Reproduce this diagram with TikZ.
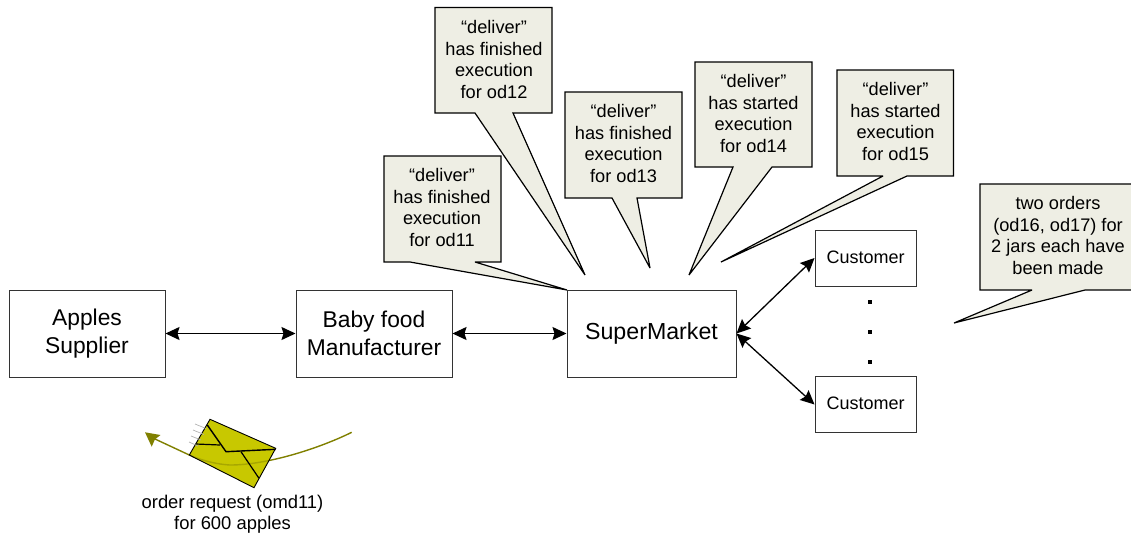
\documentclass[tikz,border=0pt]{standalone}
\usepackage{fontspec}
\setmainfont{Liberation Sans}
\usetikzlibrary{arrows.meta}
\definecolor{calloutfill}{HTML}{EEEEE4}
\definecolor{envfill}{HTML}{C8C800}
\definecolor{curvecol}{HTML}{808000}
\definecolor{boxline}{HTML}{333333}
\tikzset{
  x=1pt,y=-1pt,
  bigbox/.style={draw=boxline,line width=1pt,fill=white,align=center,inner sep=0pt,font=\fontsize{22.8}{28}\selectfont},
  custbox/.style={draw=boxline,line width=1pt,fill=white,align=center,inner sep=0pt,font=\fontsize{18}{22}\selectfont},
  calloutshape/.style={draw=black,line width=1.2pt,fill=calloutfill,line join=miter,miter limit=3},
  callouttext/.style={align=center,inner sep=0pt,font=\fontsize{18.2}{21.8}\selectfont},
  link/.style={draw=black,line width=1.3pt,{Stealth[length=14pt,width=13pt,inset=2pt]}-{Stealth[length=14pt,width=13pt,inset=2pt]}},
  dotmark/.style={fill=black,inner sep=0pt,minimum width=4pt,minimum height=4pt},
  capt/.style={inner sep=0pt,font=\fontsize{18.4}{21}\selectfont,align=center},
}
% name, left, top, right, bottom, tail x1, tip x, tip y, tail x2
\newcommand{\callbox}[9]{%
  \path[calloutshape] (#2,#3) -- (#4,#3) -- (#4,#5) -- (#9,#5) -- (#7,#8) -- (#6,#5) -- (#2,#5) -- cycle;
}
\begin{document}
\begin{tikzpicture}
\useasboundingbox (0,0) rectangle (1131,533);
% boxes
\node[bigbox,minimum width=156pt,minimum height=87pt] (apples) at (87,333.5) {Apples\\Supplier};
\node[bigbox,minimum width=156pt,minimum height=87pt] (baby) at (374,333.5) {Baby food\\Manufacturer};
\node[bigbox,minimum width=169pt,minimum height=87pt,font=\fontsize{23.2}{28}\selectfont] (market) at (651.5,333.5) {SuperMarket};
\node[custbox,minimum width=101pt,minimum height=56pt,text depth=2pt] (cust1) at (865.5,258) {Customer};
\node[custbox,minimum width=101pt,minimum height=56pt,text depth=2pt] (cust2) at (865.5,404.5) {Customer};
% links
\draw[link] (apples.east) -- (baby.west);
\draw[link] (baby.east) -- (market.west);
\draw[link] (market.east) -- (cust1.west);
\draw[link] (market.east) -- (cust2.west);
% dots
\node[dotmark] (d1) at (870,301.5) {};
\node[dotmark] (d2) at (870,331.5) {};
\node[dotmark] (d3) at (870,362) {};
% callouts
\callbox{c11}{384}{156}{501}{262}{410}{567}{290}{475}
\node[callouttext] (c11) at (442,207.5) {“deliver”\\has finished\\execution\\for od11};
\callbox{c12}{435}{7.5}{552}{113}{475}{585}{275}{513}
\node[callouttext] (c12) at (494,59.5) {“deliver”\\has finished\\execution\\for od12};
\callbox{c13}{565}{92}{682}{198}{612}{650}{268}{637}
\node[callouttext] (c13) at (623.5,143.5) {“deliver”\\has finished\\execution\\for od13};
\callbox{c14}{695}{62}{812}{167}{733}{689}{275}{772}
\node[callouttext] (c14) at (753.5,113.5) {“deliver”\\has started\\execution\\for od14};
\callbox{c15}{837}{70}{953.5}{176}{883}{721}{262}{907}
\node[callouttext] (c15) at (895.5,121.5) {“deliver”\\has started\\execution\\for od15};
\callbox{c16}{980}{184}{1132}{290}{1032}{954}{323}{1085}
\node[callouttext] (c16) at (1058,235.5) {two orders\\(od16, od17) for\\2 jars each have\\been made};
% message
\path[fill=envfill] (210,419.3) -- (275.7,448.3) -- (254,487.7) -- (189.3,455) -- cycle;
\draw[curvecol,line width=1.4pt] (351.7,432.3) .. controls (320,448) and (268,465) .. (230,465) .. controls (212,464) and (196,458) .. (189.3,455) -- (155,439);
\path[fill=curvecol] (145,432.3) -- (160.5,435) -- (155,439.3) -- (151.7,446.7) -- cycle;
\begin{scope}
\clip (210,419.3) -- (275.7,448.3) -- (254,487.7) -- (189.3,455) -- cycle;
\path[fill=envfill,fill opacity=.55] (180,410) rectangle (285,495);
\end{scope}
\draw[black,line width=.9pt] (210,419.3) -- (275.7,448.3) -- (254,487.7) -- (189.3,455) -- cycle;
\draw[black,line width=1.4pt] (207.3,425) -- (226,451.7) -- (275.7,449.3);
\draw[black,line width=1.2pt] (196,444) -- (220,445);
\draw[black,line width=1.2pt] (241,451.7) -- (259,478.3);
\draw[gray!60,line width=.7pt] (195,424) -- (206,428.5);
\draw[gray!60,line width=.7pt] (193,430) -- (204,434.5);
\draw[gray!60,line width=.7pt] (191,436) -- (201,440);
\draw[gray!60,line width=.7pt] (189,442) -- (198,446);
\node[capt] (ordertext) at (232.5,514.5) {order request (omd11)\\for 600 apples};
\end{tikzpicture}
\end{document}
